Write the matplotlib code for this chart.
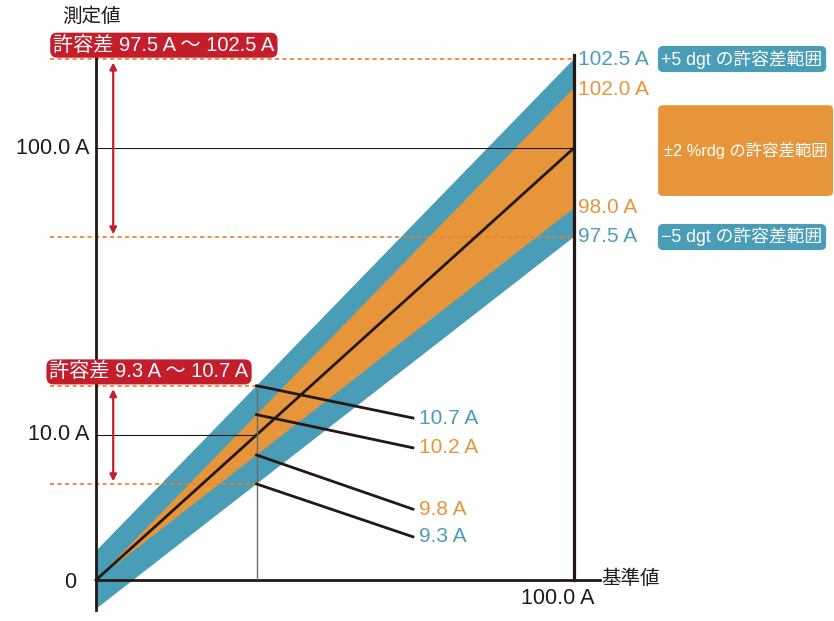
import numpy as np
import matplotlib.pyplot as plt
from matplotlib.patches import Polygon, FancyBboxPatch

plt.rcParams['font.family'] = ['Liberation Sans', 'Noto Sans CJK JP', 'DejaVu Sans']

# tolerance spec and the two example readings
rdg_pct = 2.0          # ±2 %rdg
dgt = 5                # ±5 dgt
resolution = 0.1       # A per digit
nominal = [10.0, 100.0]
nominal_pos = [33.6, 100.0]   # schematic position of each reading on the diagram

# schematic exaggeration (the real band would be invisible at this scale)
rdg_gain = 6.95
dgt_width = 6.7

BLUE = "#4a9db7"
ORANGE = "#e6953b"
DOT = "#ee7d2c"
RED = "#c41d2b"
INK = "#231815"


def limits(v):
    r = v * rdg_pct / 100
    d = dgt * resolution
    return v + r + d, v + r, v - r, v - r - d


def band(x):
    o = x * rdg_pct / 100 * rdg_gain
    return x + o + dgt_width, x + o, x - o, x - o - dgt_width


fig = plt.figure(figsize=(8.34, 6.21), dpi=100)
# (0,0) -> px (96,580), (100,100) -> px (574,148)
ax = fig.add_axes([96 / 834, 41 / 621, 478 / 834, 432 / 621])
ax.set_xlim(0, 100)
ax.set_ylim(0, 100)
ax.set_axis_off()

# bands
bt0, ot0, ob0, bb0 = band(0)
bt1, ot1, ob1, bb1 = band(100)
ax.add_patch(Polygon([(0, bt0), (100, bt1), (100, bb1), (0, bb0)], closed=True,
                     fc=BLUE, ec="none", clip_on=False, zorder=1))
ax.add_patch(Polygon([(0, ot0), (100, ot1), (100, ob1), (0, ob0)], closed=True,
                     fc=ORANGE, ec="none", clip_on=False, zorder=2))

# ideal line
ax.plot([0, 100], [0, 100], color=INK, lw=2, zorder=4, clip_on=False)

# axes
ax.plot([0, 0], [-6.9, 125], color=INK, lw=2, zorder=5, clip_on=False)
ax.plot([0, 105.4], [0, 0], color=INK, lw=2, zorder=5, clip_on=False)
ax.plot([100, 100], [0, 121.5], color=INK, lw=2.3, zorder=5, clip_on=False)

x10 = nominal_pos[0]
ax.plot([x10, x10], [0, band(x10)[0]], color="#6b6b6b", lw=1, zorder=5)
ax.plot([0, 100], [100, 100], color=INK, lw=0.8, zorder=3)
ax.plot([0, x10], [x10, x10], color=INK, lw=0.8, zorder=3)

# dotted tolerance limits and red arrows
for xp in nominal_pos:
    top, _, _, bot = band(xp)
    for yy in (top, bot):
        ax.plot([-9.6, xp], [yy, yy], color=DOT, lw=1.2, ls=(0, (2.5, 2)),
                zorder=3, clip_on=False)
    ax.annotate("", xy=(3.6, top - 0.8), xytext=(3.6, bot + 0.6),
                arrowprops=dict(arrowstyle="<|-|>", color=RED, lw=1.6,
                                mutation_scale=10, shrinkA=0, shrinkB=0),
                zorder=6, annotation_clip=False)

# red headers
for xp, v, xc in zip(nominal_pos, nominal, [11.1, 14.2]):
    hi, _, _, lo = limits(v)
    ax.text(xc, band(xp)[0] + 3.2, f"許容差 {lo:.1f} A ～ {hi:.1f} A", color="white",
            fontsize=14.5, ha="center", va="center", zorder=8, clip_on=False,
            bbox=dict(boxstyle="round,pad=0.15,rounding_size=0.35", fc=RED, ec="none"))

# leader lines for the 10 A reading
lead_end_y = [37.5, 30.6, 16.4, 10.0]
lead_cols = [BLUE, ORANGE, ORANGE, BLUE]
for ys, ye, val, c in zip(band(x10), lead_end_y, limits(nominal[0]), lead_cols):
    ax.plot([x10, 66.3], [ys, ye], color=INK, lw=2, zorder=6, clip_on=False)
    ax.text(67.5, ye, f"{val:.1f} A", color=c, fontsize=15, ha="left",
            va="center", zorder=7)

# right-hand labels for the 100 A reading
right_y = list(band(100))
right_y[1] -= 0.3
right_y[2] += 0.2
for yy, val, c in zip(right_y, limits(nominal[1]), lead_cols):
    ax.text(100.8, yy, f"{val:.1f} A", color=c, fontsize=15, ha="left",
            va="center", zorder=7, clip_on=False)

for yy, txt in zip([bt1, bb1], [f"+{dgt} dgt の許容差範囲", f"−{dgt} dgt の許容差範囲"]):
    ax.text(118.3, yy, txt, color="white", fontsize=12.8, ha="left", va="center",
            clip_on=False, bbox=dict(boxstyle="round,pad=0.2,rounding_size=0.3",
                                     fc=BLUE, ec="none"))

ax.add_patch(FancyBboxPatch((117.6, 88.9), 36.6, 21.0,
                            boxstyle="round,pad=0,rounding_size=1.0",
                            fc=ORANGE, ec="none", clip_on=False))
ax.text(135.9, 99.4, f"±{rdg_pct:.0f} %rdg の許容差範囲", color="white",
        fontsize=11.8, ha="center", va="center", clip_on=False)

# tick labels and axis titles
ax.text(-1.3, 100, f"{nominal[1]:.1f} A", fontsize=15.5, ha="right", va="center",
        color=INK, clip_on=False)
ax.text(-1.3, x10, f"{nominal[0]:.1f} A", fontsize=15.5, ha="right", va="center",
        color=INK, clip_on=False)
ax.text(-5.4, -0.5, "0", fontsize=15.5, ha="center", va="center", color=INK,
        clip_on=False)
ax.text(96.7, -4.3, f"{nominal[1]:.1f} A", fontsize=15.5, ha="center", va="center",
        color=INK, clip_on=False)
ax.text(105.8, 0.3, "基準値", fontsize=14, ha="left", va="center", color=INK,
        clip_on=False)
ax.text(-1.0, 130.5, "測定値", fontsize=14, ha="center", va="center", color=INK,
        clip_on=False)

fig.savefig("out.png", dpi=100)
